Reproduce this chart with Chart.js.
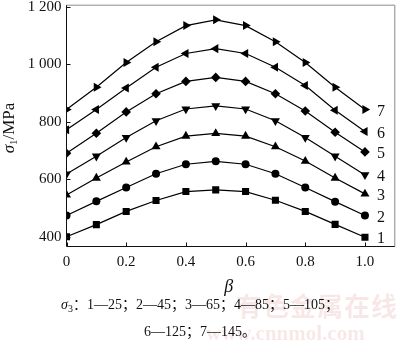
<!DOCTYPE html>
<html><head><meta charset="utf-8">
<script src="https://cdn.jsdelivr.net/npm/chart.js@4.4.1/dist/chart.umd.min.js"></script>
<style>
html,body{margin:0;padding:0;background:#fff;}
#wrap{position:relative;width:400px;height:346px;overflow:hidden;}
#wm1,#wm2{position:absolute;color:rgba(205,70,70,0.13);white-space:nowrap;font-weight:bold;}
#wm1{left:236px;top:286px;font:bold 26px "Noto Sans CJK SC";letter-spacing:1px;}
#wm2{left:206px;top:321px;font:bold 21px "Liberation Serif";}
.cap{position:absolute;left:0;width:400px;text-align:center;font-family:"Liberation Serif","Noto Sans CJK SC";font-size:14px;color:#111;white-space:nowrap;line-height:18px;}
.cap i{font-style:italic;}
.cap sub{font-size:10px;vertical-align:-3px;line-height:0;}
canvas{position:absolute;left:0;top:0;}
</style></head>
<body>
<div id="wrap">
<div id="wm1">有色金属在线</div>
<div id="wm2">www.cnnmol.com</div>
<canvas id="c" width="400" height="346"></canvas>
<div class="cap" style="top:296px"><i>σ</i><sub>3</sub>：1—25；2—45；3—65；4—85；5—105；</div>
<div class="cap" style="top:323px">6—125；7—145。</div>
</div>
<script>
const beta = [0, 0.1, 0.2, 0.3, 0.4, 0.5, 0.6, 0.7, 0.8, 0.9, 1.0];
const s1 = [400, 442, 488, 526, 557, 563, 557, 527, 488, 443, 398];
const s2 = [474, 523, 571, 619, 652, 662, 652, 619, 571, 522, 474];
const s3 = [545, 604, 660, 713, 750, 759, 750, 713, 663, 604, 549];
const s4 = [618, 680, 745, 803, 844, 855, 844, 803, 745, 680, 615];
const s5 = [690, 760, 834, 897, 940, 954, 940, 897, 837, 763, 695];
const s6 = [772, 842, 917, 989, 1037, 1054, 1037, 989, 926, 840, 766];
const s7 = [842, 920, 1006, 1078, 1134, 1154, 1134, 1078, 1006, 920, 842];
const seriesLabels = ['1', '2', '3', '4', '5', '6', '7'];
const xTicks = [0, 0.2, 0.4, 0.6, 0.8, 1.0];
const yTicks = [400, 600, 800, 1000, 1200];

const series = [s1, s2, s3, s4, s5, s6, s7];
const styles = [
  {pointStyle: 'rect', radius: 5, rotation: 0},
  {pointStyle: 'circle', radius: 4, rotation: 0},
  {pointStyle: 'triangle', radius: 5.2, rotation: 0},
  {pointStyle: 'triangle', radius: 5.2, rotation: 180},
  {pointStyle: 'rectRot', radius: 4.8, rotation: 0},
  {pointStyle: 'triangle', radius: 5.2, rotation: -90},
  {pointStyle: 'triangle', radius: 5.2, rotation: 90}
];

const datasets = series.map((vals, i) => ({
  label: seriesLabels[i],
  data: vals.map((v, j) => ({x: beta[j], y: v})),
  borderColor: '#000',
  backgroundColor: '#000',
  borderWidth: 1.2,
  pointStyle: styles[i].pointStyle,
  pointRadius: styles[i].radius,
  pointRotation: styles[i].rotation,
  pointBorderWidth: 0,
  pointBackgroundColor: '#000',
  tension: 0,
  fill: false
}));

const SERIF = '"Liberation Serif", "Times New Roman", serif';

const decor = {
  id: 'decor',
  afterDraw(chart) {
    const ctx = chart.ctx;
    const a = chart.chartArea;
    const xs = chart.scales.x, ys = chart.scales.y;
    ctx.save();
    ctx.lineWidth = 1;
    ctx.strokeStyle = '#8a8a8a';
    ctx.beginPath();
    ctx.moveTo(a.left, a.top); ctx.lineTo(a.right, a.top); ctx.lineTo(a.right, a.bottom);
    ctx.stroke();
    ctx.strokeStyle = '#111';
    ctx.beginPath();
    ctx.moveTo(a.left, a.top); ctx.lineTo(a.left, a.bottom); ctx.lineTo(a.right, a.bottom);
    ctx.stroke();
    ctx.beginPath();
    xTicks.forEach(v => {
      const px = Math.round(xs.getPixelForValue(v)) + 0.5;
      ctx.moveTo(px, a.bottom); ctx.lineTo(px, a.bottom - 4);
    });
    yTicks.forEach(v => {
      const py = Math.round(ys.getPixelForValue(v)) + 0.5;
      ctx.moveTo(a.left, py); ctx.lineTo(a.left + 4, py);
    });
    ctx.stroke();
    ctx.fillStyle = '#111';
    ctx.font = '16px ' + SERIF;
    ctx.textAlign = 'left';
    ctx.textBaseline = 'middle';
    chart.data.datasets.forEach((ds, i) => {
      const meta = chart.getDatasetMeta(i);
      const pt = meta.data[meta.data.length - 1];
      ctx.fillText(seriesLabels[i], pt.x + 12, pt.y + 2);
    });
    ctx.font = 'italic 18px ' + SERIF;
    ctx.textAlign = 'center';
    ctx.fillText('β', (a.left + a.right) / 2 - 2, 287);
    ctx.translate(10, 128);
    ctx.rotate(-Math.PI / 2);
    ctx.textAlign = 'left';
    ctx.font = 'italic 17px ' + SERIF;
    const w1 = ctx.measureText('σ').width;
    ctx.font = '17px ' + SERIF;
    const w3 = ctx.measureText('/MPa').width;
    ctx.font = '11px ' + SERIF;
    const w2 = ctx.measureText('1').width;
    let x0 = -(w1 + w2 + w3) / 2;
    ctx.font = 'italic 17px ' + SERIF;
    ctx.fillText('σ', x0, 0);
    ctx.font = '11px ' + SERIF;
    ctx.fillText('1', x0 + w1, 4);
    ctx.font = '17px ' + SERIF;
    ctx.fillText('/MPa', x0 + w1 + w2, 0);
    ctx.restore();
  }
};

new Chart(document.getElementById('c'), {
  type: 'line',
  data: {datasets},
  options: {
    responsive: false,
    animation: false,
    devicePixelRatio: 1,
    layout: {padding: {left: 0, right: 0.5, top: 4.5, bottom: 0}},
    plugins: {legend: {display: false}, tooltip: {enabled: false}},
    scales: {
      x: {
        type: 'linear', min: 0, max: 1.1,
        grid: {display: false, drawTicks: false},
        border: {display: false},
        afterFit(s) { s.height = 99.5; s.paddingLeft = 0; s.paddingRight = 0; },
        afterBuildTicks(s) { s.ticks = xTicks.map(v => ({value: v})); },
        ticks: {
          padding: 7, color: '#111', font: {family: SERIF, size: 15},
          callback: v => v === 1 ? '1.0' : (v === 0 ? '0' : v.toFixed(1))
        }
      },
      y: {
        type: 'linear', min: 366, max: 1205,
        grid: {display: false, drawTicks: false},
        border: {display: false},
        afterFit(s) { s.width = 66.5; s.paddingTop = 0; s.paddingBottom = 0; },
        afterBuildTicks(s) { s.ticks = yTicks.map(v => ({value: v})); },
        ticks: {
          padding: 5, color: '#111', font: {family: SERIF, size: 15},
          callback: v => v >= 1000 ? Math.floor(v / 1000) + ' ' + String(v % 1000).padStart(3, '0') : String(v)
        }
      }
    }
  },
  plugins: [decor]
});
</script>
</body></html>
